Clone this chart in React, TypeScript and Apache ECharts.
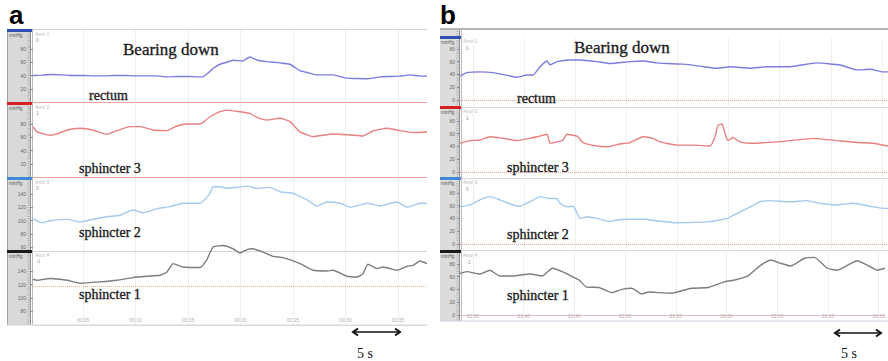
import React, { useEffect, useRef } from "react";
import * as echarts from "echarts";

// ---------- data (time in s, pressure in mmHg) ----------
const channelNames = ["rectum", "sphincter 3", "sphincter 2", "sphincter 1"];

const aRectum: [number, number][] = [[0.24,40],[1,40.5],[2,41.5],[3,41],[4,40],[5,40],[6,39.5],[7,39.5],[8,40],[9,40],[10,39.5],[11,39.5],[12,39.5],[13,38],[14,38.5],[15,38.5],[16,38],[16.4,38],[17,45],[17.4,51],[18.05,57],[18.7,60],[19.3,63],[20.2,62],[20.9,68],[21.6,63],[22.5,61],[23.8,59],[24.7,57],[25.2,52],[25.7,47],[26.5,44],[27.3,41],[28.8,41],[30.1,36],[31,35.5],[32.05,35],[33.3,38],[34.2,38.5],[35.2,39],[36.1,41],[37,39.5],[37.76,39]];
const aSphincter3: [number, number][] = [[0.24,76],[0.62,68],[1.86,63],[2.53,65],[3.48,71],[4.72,73.5],[5.95,71],[7.29,64.5],[8.24,70],[9.48,76],[10.43,76],[11.67,71],[13,70],[13.95,77],[14.91,80],[16.14,80],[16.4,82],[17.1,91],[18.05,98.6],[18.72,101],[19.95,98.6],[20.9,96],[21.57,90],[22.53,86],[23.76,88.6],[24.72,83.5],[25.67,68],[26.9,61],[28.81,65],[30.43,63.4],[31.67,62],[32.62,69.4],[33.95,73.5],[35.19,70],[36.43,67],[37.76,68]];
const aSphincter2: [number, number][] = [[0.24,103],[0.43,101],[1.1,96.7],[1.86,99.7],[3.48,101.8],[4.72,98],[5.95,101.8],[7.29,105.7],[8.53,108],[9.76,116],[10.72,111.8],[12.05,118],[13.29,121],[14.53,126],[16.14,126],[17.1,141],[17.38,151],[18.05,151],[18.72,148.6],[20.62,152],[21.57,148.6],[22.81,150],[23.76,143.5],[25,141],[26.34,131],[27.29,122],[28.24,128],[29.48,126],[30.43,120],[32.05,126],[33.29,122],[34.91,128],[35.86,120],[37.1,126],[37.76,126]];
const aSphincter1: [number, number][] = [[0.24,128],[0.62,126.4],[1.86,129],[3.48,126.4],[4.72,122],[6.62,124],[8.24,126.4],[9.76,130.5],[11.1,132.5],[12.34,134],[13,139],[13.57,151.6],[14.53,146.5],[16.14,145.6],[16.81,158],[17.38,176.7],[18.34,179],[19.29,174],[19.95,167.6],[20.62,172.8],[21.19,174],[22.14,169],[23.1,162.6],[24.05,160.7],[25.67,151.6],[26.9,141.5],[28.24,140.5],[28.81,141.5],[30.14,132.5],[31.1,131.4],[31.67,136.5],[32.14,150.6],[33,144],[33.57,146.5],[34.91,141.5],[35.86,147.6],[36.43,149],[37.1,155.5],[37.76,151.6]];

const bRectum: [number, number][] = [[3.73,37.5],[4.41,42.7],[5.69,44],[6.96,42.7],[8.62,37.5],[9.31,35.5],[10.29,39],[10.87,39],[11.56,52],[12.24,61],[12.54,55],[13.22,60],[14.49,62.5],[15.47,62.5],[17.13,60],[18.41,57],[20.36,60],[21.64,61],[23,58],[23.98,57],[25.55,56],[27.21,53],[28.88,49.5],[30.15,52],[32.11,49.5],[33.77,52],[36.02,52],[38.66,58],[40.91,54.7],[42.58,47],[43.85,48],[45.12,44],[45.6,44]];
const bSphincter3: [number, number][] = [[3.73,45],[4.71,49],[5.69,50],[6.67,55],[7.94,52.6],[9.31,49],[10.58,52.6],[11.26,55],[12.24,59],[12.54,45],[13.22,47],[13.81,50],[14.2,59],[15.18,56],[15.77,46],[17.13,40.6],[18.11,39.5],[19.39,43.8],[20.36,46],[21.64,55],[22.61,52.6],[23.3,47],[24.96,42],[26.53,42],[28.19,40.6],[28.68,55],[28.97,73],[29.36,75],[29.66,60],[29.95,49],[30.44,54],[31.13,47],[32.11,45],[34.75,47],[36.02,49],[38.27,52.6],[40.62,49],[42.58,46],[44.14,45],[45.6,40.6]];
const bSphincter2: [number, number][] = [[3.73,58],[4.71,61],[5.69,69],[6.67,74],[7.64,69],[8.92,61],[9.6,59],[10.58,66],[11.56,74],[12.54,71],[13.22,71],[13.51,63.6],[14.2,58],[14.79,59],[15.18,48],[15.47,40],[16.16,42.7],[17.13,40],[18.41,35],[19.09,37.5],[20.36,38.6],[22.03,38.6],[22.32,37.5],[24.96,33.3],[28.19,35],[29.86,40],[30.83,48],[32.11,58],[33.08,66],[34.06,67.7],[36.02,66],[37.68,67.7],[38.95,63.6],[40.62,61],[42.18,63.6],[43.85,59],[45.12,55.7],[45.6,55.7]];
const bSphincter1: [number, number][] = [[3.73,65],[4.41,67.7],[5.69,64],[6.67,70],[7.64,61],[8.92,61],[10.58,64],[11.85,61],[12.83,73],[13.81,67.7],[14.79,60],[15.47,54.7],[16.16,44],[17.43,43],[18.7,35],[19.68,40],[20.66,41.7],[21.64,32.8],[22.32,36],[23.3,35],[24.57,34],[26.53,41.7],[28.19,43],[29.86,52],[30.83,54.7],[32.11,61],[33.38,78],[34.36,86],[35.33,80.8],[36.31,76.6],[37.68,88.6],[38.66,90],[39.93,73],[40.91,70],[42.87,84.8],[43.85,78],[44.83,70],[45.6,73]];

const aTimeTicks = [5, 10, 15, 20, 25, 30, 35];
const bTimeTicks = [5, 10, 15, 20, 25, 30, 35, 40, 45];
const aPressureTicks = [[20, 40, 60, 80], [20, 40, 60, 80], [60, 80, 100, 120, 140], [80, 100, 120, 140]];
const bPressureTicks = [0, 20, 40, 60, 80];
const aReferenceLevels = [0, 0, null, 117];
const bReferenceLevels = [0, 0, 0, 0];
const channelTags = ["0", "1", "0", "-1"];

// ---------- styles / layout ----------
const lineColors = ["#7c7ce0", "#e97f7f", "#a6c9ee", "#7d7d7d"];
const barColors = ["#2f4fb3", "#d42020", "#3f8ad6", "#1a1a1a"];
const SERIF = '"Liberation Serif", "Times New Roman", serif';
const SANS = '"Liberation Sans", Arial, sans-serif';

const pad2 = (n: number) => (n < 10 ? "0" + n : "" + n);
const fmtA = (v: number) => "00:" + pad2(Math.round(v));
const fmtB = (v: number) => {
  const t = 21 * 60 + 30 + Math.round(v);
  return Math.floor(t / 60) + ":" + pad2(t % 60);
};

const panels = [
  {
    left: 33, width: 394, xMin: 0.24, xMax: 37.76, xTicks: aTimeTicks, fmt: fmtA,
    rows: [
      { top: 30, height: 72, min: 0, max: 108.7 },
      { top: 104, height: 73, min: 0, max: 110.2 },
      { top: 178, height: 74, min: 52.5, max: 164.2 },
      { top: 252, height: 73, min: 58.9, max: 169.1 },
    ],
    yTicks: aPressureTicks, refs: aReferenceLevels, refDash: ["solid", "solid", "solid", "dotted"],
    data: [aRectum, aSphincter3, aSphincter2, aSphincter1],
  },
  {
    left: 460, width: 428, xMin: 3.73, xMax: 45.6, xTicks: bTimeTicks, fmt: fmtB,
    rows: [
      { top: 38, height: 68, min: -9.4, max: 96.9 },
      { top: 109, height: 68, min: -7.8, max: 98.4 },
      { top: 180, height: 69, min: -7.8, max: 100 },
      { top: 252, height: 69, min: -9.4, max: 98.4 },
    ],
    yTicks: [bPressureTicks, bPressureTicks, bPressureTicks, bPressureTicks], refs: bReferenceLevels,
    refDash: ["dotted", "dotted", "dotted", "dotted"],
    data: [bRectum, bSphincter3, bSphincter2, bSphincter1],
  },
];

function buildOption() {
  const grid: any[] = [];
  const xAxis: any[] = [];
  const yAxis: any[] = [];
  const series: any[] = [];
  panels.forEach((p, pi) => {
    p.rows.forEach((r, ri) => {
      const idx = grid.length;
      const bottomRow = ri === 3;
      grid.push({ left: p.left, top: r.top, width: p.width, height: r.height, containLabel: false });
      xAxis.push({
        type: "value", gridIndex: idx, min: p.xMin, max: p.xMax,
        axisLine: { show: bottomRow, lineStyle: { color: pi === 0 ? "#d8d8d8" : "#c8d4e0" } },
        axisTick: { show: false, customValues: p.xTicks },
        axisLabel: {
          show: bottomRow, inside: true, margin: 3, fontSize: 5, color: "#b0b0b0",
          customValues: p.xTicks, formatter: p.fmt, fontFamily: SANS,
        },
        splitLine: { show: true, lineStyle: { color: "#eeeeee", width: 1 } },
      });
      yAxis.push({
        type: "value", gridIndex: idx, min: r.min, max: r.max, z: 5,
        axisLine: { show: false },
        axisTick: { show: true, length: 3, customValues: p.yTicks[ri], lineStyle: { color: "#8a8a8a" } },
        axisLabel: {
          show: true, customValues: p.yTicks[ri], fontSize: 5, color: "#666", margin: pi === 0 ? 7 : 5,
          fontFamily: SANS,
        },
        splitLine: { show: false },
      });
      const ref = p.refs[ri];
      series.push({
        type: "line", name: channelNames[ri], xAxisIndex: idx, yAxisIndex: idx,
        data: p.data[ri], showSymbol: false, symbol: "none", clip: false, smooth: 0.15,
        lineStyle: { color: lineColors[ri], width: 1.4 }, z: 3,
        markLine: ref === null ? undefined : {
          silent: true, symbol: "none", label: { show: false },
          lineStyle: { color: "#f3a59c", width: 1, type: p.refDash[ri] },
          data: [{ yAxis: ref }], z: 2,
        },
      });
    });
  });

  const g: any[] = [];
  const line = (x1: number, y1: number, x2: number, y2: number, stroke: string, lineWidth = 1, extra: any = {}) =>
    g.push({ type: "line", z: 1, shape: { x1, y1, x2, y2 }, style: { stroke, lineWidth, ...extra }, silent: true });
  const text = (x: number, y: number, t: string, size: number, family: string, fill = "#111", weight = "normal", z = 10, extra: any = {}) =>
    g.push({ type: "text", x, y, z, silent: true, style: { text: t, fontSize: size, fontFamily: family, fontWeight: weight, fill, verticalAlign: "top", ...extra } });

  // panel a frame
  g.push({ type: "rect", z: 0, shape: { x: 7, y: 29, width: 24, height: 296 }, style: { fill: "#d9d9d9" }, silent: true });
  line(7.5, 29, 7.5, 325, "#a0a0a0");
  line(30.5, 29, 30.5, 325, "#8c8c8c");
  line(32.5, 29, 32.5, 325, "#b8b8b8");
  line(28.5, 29, 28.5, 325, "#a8a8a8", 2, { lineDash: [0.8, 1.4] });
  line(33, 29.5, 427, 29.5, "#d0d0d0");
  line(33, 251.5, 427, 251.5, "#d4d4d4");
  line(7, 325, 427, 325, "#d8d8d8");
  const aBarY = [29, 102, 177, 250];
  aBarY.forEach((y, i) => g.push({ type: "rect", z: 2, shape: { x: 7, y, width: 25, height: 3 }, style: { fill: barColors[i] }, silent: true }));

  // panel b frame
  g.push({ type: "rect", z: 0, shape: { x: 440, y: 29, width: 20, height: 292 }, style: { fill: "#dcdcdc" }, silent: true });
  line(459.5, 29, 459.5, 321, "#8c8c8c");
  line(461.5, 29, 461.5, 321, "#bdbdbd");
  line(457.5, 29, 457.5, 321, "#a8a8a8", 2, { lineDash: [0.8, 1.4] });
  line(440, 29, 888, 29, "#b5b5b5", 2);
  [107.5, 178.5, 250.5].forEach((y) => line(460, y, 888, y, "#d8d8d8"));
  line(440, 321, 888, 321, "#c8d4e0");
  const bBarY = [36, 106, 177, 250];
  bBarY.forEach((y, i) => g.push({ type: "rect", z: 2, shape: { x: 440, y, width: 21, height: 3 }, style: { fill: barColors[i] }, silent: true }));

  // tiny sidebar / channel texts
  aBarY.forEach((y, i) => {
    text(9, y + 4, "mmHg", 4.5, SANS, "#555", "normal", 6);
    text(35, y + 2, "Amz " + (i + 1), 5, SANS, "#bbbbbb", "normal", 6);
    text(36, y + 8, channelTags[i], 5, SANS, "#999", "normal", 6);
  });
  bBarY.forEach((y, i) => {
    text(441, y + 4, "mmHg", 4.5, SANS, "#555", "normal", 6);
    text(463, y + 2, "Amz " + (i + 1), 5, SANS, "#bbbbbb", "normal", 6);
    text(466, y + 9, channelTags[i], 5, SANS, "#999", "normal", 6);
  });

  // panel letters
  text(9, 2, "a", 26, SANS, "#000", "bold");
  text(440, 2, "b", 26, SANS, "#000", "bold");

  // annotations
  const soft = { stroke: "#333", lineWidth: 0.35 };
  text(123, 40.5, "Bearing down", 17, SERIF, "#1a1a1a", "normal", 10, soft);
  text(574, 39, "Bearing down", 17, SERIF, "#1a1a1a", "normal", 10, soft);
  const aLab = [[89, 88.2], [79, 161.7], [79, 225.2], [79, 287.9]];
  const bLab = [[517, 91.2], [507, 160.2], [507, 227.9], [507, 288.7]];
  aLab.forEach(([x, y], i) => text(x, y, channelNames[i], 14, SERIF, "#1a1a1a", "normal", 10, soft));
  bLab.forEach(([x, y], i) => text(x, y, channelNames[i], 14, SERIF, "#1a1a1a", "normal", 10, soft));

  // 5 s scale arrows
  const arrow = (x1: number, x2: number, y: number) => {
    line(x1 + 1, y, x2 - 1, y, "#111", 1.6);
    g.push({ type: "polyline", z: 1, silent: true, shape: { points: [[x1 + 5, y - 3.5], [x1, y], [x1 + 5, y + 3.5]] }, style: { stroke: "#111", lineWidth: 2, fill: "none" } });
    g.push({ type: "polyline", z: 1, silent: true, shape: { points: [[x2 - 5, y - 3.5], [x2, y], [x2 - 5, y + 3.5]] }, style: { stroke: "#111", lineWidth: 2, fill: "none" } });
  };
  arrow(353, 400, 332);
  arrow(835, 881, 333);
  text(357, 346.2, "5 s", 14, SERIF);
  text(841, 346.2, "5 s", 14, SERIF);

  return {
    animation: false,
    backgroundColor: "#ffffff",
    grid, xAxis, yAxis, series,
    graphic: { elements: g },
  };
}

export default function App() {
  const ref = useRef<HTMLDivElement>(null);
  useEffect(() => {
    if (!ref.current) return;
    const chart = echarts.init(ref.current, undefined, { renderer: "svg" });
    chart.setOption(buildOption() as any);
    return () => chart.dispose();
  }, []);
  return <div ref={ref} style={{ position: "fixed", left: 0, top: 0, width: 888, height: 361 }} />;
}
